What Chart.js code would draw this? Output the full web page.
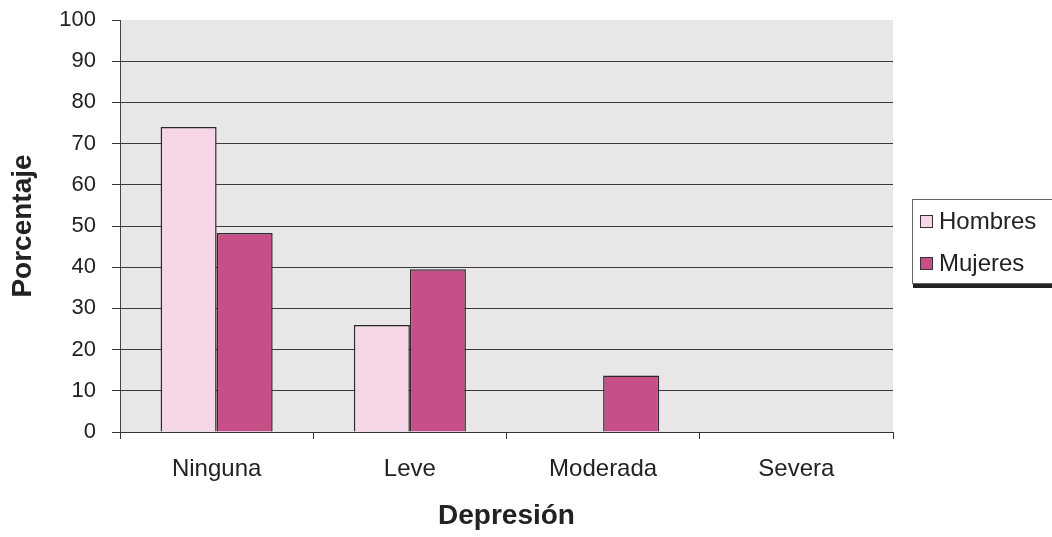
<!DOCTYPE html>
<html>
<head>
<meta charset="utf-8">
<script src="https://cdn.jsdelivr.net/npm/chart.js@4/dist/chart.umd.min.js"></script>
<style>
  html, body { margin: 0; padding: 0; background: #ffffff; }
  #wrap { position: relative; width: 1052px; height: 537px; overflow: hidden; }
  #legend {
    position: absolute; left: 912px; top: 199px; width: 150px; height: 83px;
    border: 1px solid #666; background: #fff;
    box-shadow: 1px 4px 0 #222;
    font-family: "Liberation Sans", Arial, sans-serif; font-size: 24px; color: #222;
  }
  .item { position: absolute; left: 7px; display: flex; align-items: center; line-height: 28px; }
  .sw { width: 11px; height: 11px; border: 1px solid #333; margin-right: 6px; }
</style>
</head>
<body>
<div id="wrap">
  <canvas id="c" width="1052" height="537"></canvas>
  <div id="legend">
    <div class="item" style="top:7px"><span class="sw" style="background:#f7d6e8"></span>Hombres</div>
    <div class="item" style="top:49px"><span class="sw" style="background:#c64f88"></span>Mujeres</div>
  </div>
</div>
<script>
const categories = ["Ninguna", "Leve", "Moderada", "Severa"];
const hombres = [74, 26, 0, 0];
const mujeres = [48.3, 39.5, 13.7, 0];
const seriesNames = ["Hombres", "Mujeres"];
const yTicks = [0, 10, 20, 30, 40, 50, 60, 70, 80, 90, 100];

const FONT = '"Liberation Sans", Arial, sans-serif';

const bgPlugin = {
  id: 'plotBg',
  beforeDraw(chart) {
    const { ctx, chartArea: a } = chart;
    ctx.save();
    ctx.fillStyle = '#e8e6e7';
    ctx.fillRect(a.left, a.top, a.right - a.left, a.bottom - a.top);
    ctx.restore();
  }
};

new Chart(document.getElementById('c'), {
  type: 'bar',
  data: {
    labels: categories,
    datasets: [
      { label: seriesNames[0], data: hombres, backgroundColor: '#f7d6e8', borderColor: '#2a2a2a', borderWidth: 1.5, borderSkipped: 'bottom' },
      { label: seriesNames[1], data: mujeres, backgroundColor: '#c64f88', borderColor: '#2a2a2a', borderWidth: 1.5, borderSkipped: 'bottom' }
    ]
  },
  plugins: [bgPlugin],
  options: {
    responsive: false,
    animation: false,
    devicePixelRatio: 1,
    layout: { padding: { top: 20, right: 159, left: 0, bottom: 0 } },
    datasets: { bar: { categoryPercentage: 0.58, barPercentage: 1.0 } },
    plugins: { legend: { display: false }, tooltip: { enabled: false } },
    scales: {
      x: {
        grid: { offset: true, drawOnChartArea: false, color: '#333', tickLength: 7 },
        border: { color: '#333', width: 1 },
        ticks: { color: '#222', font: { family: FONT, size: 24 }, padding: 16 },
        title: { display: true, text: 'Depresión', color: '#222', font: { family: FONT, size: 28, weight: 'bold' }, padding: { top: 0, bottom: 4 } },
        afterFit(s) { s.height = 105; s.paddingLeft = 0; s.paddingRight = 0; }
      },
      y: {
        min: 0, max: 100,
        afterBuildTicks(s) { s.ticks = yTicks.map(v => ({ value: v })); },
        grid: {
          color: (c) => (c.tick && c.tick.value === 100) ? 'rgba(0,0,0,0)' : '#3a3a3a',
          tickColor: '#333', lineWidth: 1, tickLength: 8
        },
        border: { color: '#444', width: 1 },
        ticks: { color: '#222', font: { family: FONT, size: 22 }, padding: 16 },
        title: { display: true, text: 'Porcentaje', color: '#222', font: { family: FONT, size: 28, weight: 'bold' }, padding: { top: 6, bottom: 0 } },
        afterFit(s) { s.width = 120; s.paddingTop = 0; s.paddingBottom = 0; }
      }
    }
  }
});
</script>
</body>
</html>
